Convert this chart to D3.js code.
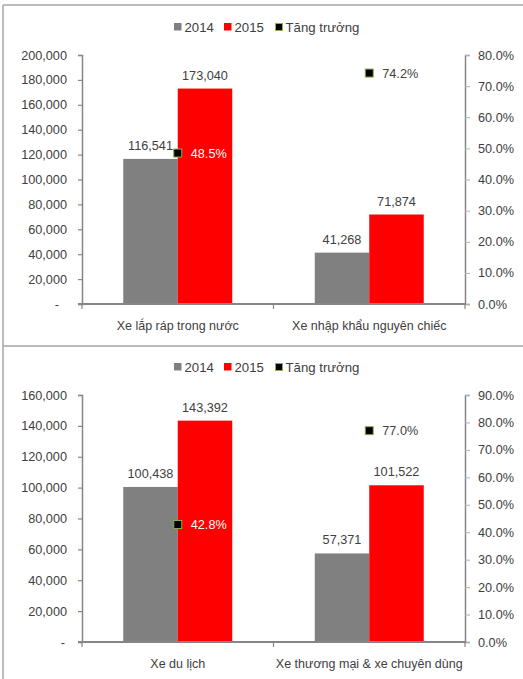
<!DOCTYPE html>
<html>
<head>
<meta charset="utf-8">
<script src="https://cdn.jsdelivr.net/npm/d3@7"></script>
<style>
  html, body { margin: 0; padding: 0; background: #fff; }
  svg { display: block; font-family: "Liberation Sans", Arial, sans-serif; }
</style>
</head>
<body>
<svg id="chart" width="523" height="679"></svg>
<script>
// Sales volumes (units) and year-on-year growth
const seriesKeys = ["2014", "2015"];
const legendLabels = ["2014", "2015", "Tăng trưởng"];

const categoriesTop = ["Xe lắp ráp trong nước", "Xe nhập khẩu nguyên chiếc"];
const values2014Top = [116541, 41268];
const values2015Top = [173040, 71874];
const growthTop = [0.485, 0.742];
const leftTicksTop = [0, 20000, 40000, 60000, 80000, 100000, 120000, 140000, 160000, 180000, 200000];
const rightTicksTop = [0, 0.1, 0.2, 0.3, 0.4, 0.5, 0.6, 0.7, 0.8];

const categoriesBottom = ["Xe du lịch", "Xe thương mại & xe chuyên dùng"];
const values2014Bottom = [100438, 57371];
const values2015Bottom = [143392, 101522];
const growthBottom = [0.428, 0.770];
const leftTicksBottom = [0, 20000, 40000, 60000, 80000, 100000, 120000, 140000, 160000];
const rightTicksBottom = [0, 0.1, 0.2, 0.3, 0.4, 0.5, 0.6, 0.7, 0.8, 0.9];

const COLORS = { "2014": "#808080", "2015": "#ff0000" };
const AXIS = "#868686";
const TEXT = "#404040";
const MARKER_FILL = "#000000";
const MARKER_STROKE = "#8db04a";

const svg = d3.select("#chart");

// Frame lines
const frame = svg.append("g").attr("stroke", "#a6a6a6").attr("stroke-width", 1.5).attr("fill", "none");
frame.append("line").attr("x1", 3).attr("x2", 523).attr("y1", 5).attr("y2", 5);
frame.append("line").attr("x1", 3).attr("x2", 3).attr("y1", 5).attr("y2", 679);
frame.append("line").attr("x1", 3).attr("x2", 523).attr("y1", 346).attr("y2", 346);

const fmtNum = d3.format(",");
const fmtPct = d3.format(".1%");

function drawPanel(cfg) {
  const g = svg.append("g");
  const x0 = 82, x1 = 465;
  const { top, bottom } = cfg;

  const rows = cfg.categories.map((c, i) => ({
    cat: c, "2014": cfg.v2014[i], "2015": cfg.v2015[i], growth: cfg.growth[i]
  }));

  const x = d3.scaleBand().domain(cfg.categories).range([x0, x1]).paddingInner(0).paddingOuter(0);
  const xs = d3.scaleBand().domain(seriesKeys).range([0, x.bandwidth()]).paddingInner(0).paddingOuter(0.757);
  const yL = d3.scaleLinear().domain([0, d3.max(cfg.leftTicks)]).range([bottom, top]);
  const yR = d3.scaleLinear().domain([0, d3.max(cfg.rightTicks)]).range([bottom, top]);

  // Legend
  const lg = g.append("g").attr("font-size", 13.2).attr("fill", TEXT);
  const legX = [174, 224, 275];
  const ly = cfg.legendY;
  legendLabels.forEach((lab, i) => {
    if (i < 2) {
      lg.append("rect").attr("x", legX[i]).attr("y", ly - 4).attr("width", 7.5).attr("height", 7.5)
        .attr("fill", COLORS[seriesKeys[i]]);
    } else {
      lg.append("rect").attr("x", legX[i] + 0.5).attr("y", ly - 3.5).attr("width", 7).attr("height", 7)
        .attr("fill", MARKER_FILL).attr("stroke", MARKER_STROKE).attr("stroke-width", 1);
    }
    lg.append("text").attr("x", legX[i] + 10.5).attr("y", ly + 4.5).text(lab);
  });

  // Bars
  const bars = g.append("g");
  rows.forEach(r => {
    seriesKeys.forEach(k => {
      bars.append("rect")
        .attr("x", x(r.cat) + xs(k))
        .attr("y", yL(r[k]))
        .attr("width", xs.bandwidth())
        .attr("height", bottom - yL(r[k]))
        .attr("fill", COLORS[k]);
    });
  });

  // Left axis
  const axL = g.append("g").attr("transform", `translate(${x0},0)`)
    .call(d3.axisLeft(yL).tickValues(cfg.leftTicks).tickSize(4).tickPadding(11)
      .tickFormat(d => d === 0 ? "-" : fmtNum(d)));
  axL.select(".domain").attr("stroke", AXIS).attr("stroke-width", 1.5);
  axL.selectAll(".tick line").attr("stroke", AXIS).attr("stroke-width", 1.2);
  axL.selectAll(".tick text").attr("fill", TEXT).attr("font-size", 12.7)
    .attr("font-family", "Liberation Sans, Arial, sans-serif")
    .attr("dx", d => d === 0 ? cfg.zeroShift : 0);

  // Right axis
  const axR = g.append("g").attr("transform", `translate(${x1},0)`)
    .call(d3.axisRight(yR).tickValues(cfg.rightTicks).tickSize(5).tickPadding(8).tickFormat(fmtPct));
  axR.select(".domain").attr("stroke", AXIS).attr("stroke-width", 1.5);
  axR.selectAll(".tick line").attr("stroke", "#b0b0b0").attr("stroke-width", 1);
  axR.selectAll(".tick text").attr("fill", TEXT).attr("font-size", 12.7)
    .attr("font-family", "Liberation Sans, Arial, sans-serif");

  // Category axis
  const axB = g.append("g").attr("transform", `translate(0,${bottom})`)
    .call(d3.axisBottom(x).tickSize(0).tickPadding(17));
  axB.select(".domain").attr("stroke", AXIS).attr("stroke-width", 1.8)
    .attr("d", `M${x0 - 4},0H${x1 + 1}`);
  axB.selectAll(".tick text").attr("fill", TEXT).attr("font-size", 12.5)
    .attr("font-family", "Liberation Sans, Arial, sans-serif");
  // category boundary ticks
  const bounds = [x0, x0 + x.bandwidth(), x1];
  g.append("g").selectAll("line").data(bounds).join("line")
    .attr("x1", d => d).attr("x2", d => d)
    .attr("y1", bottom).attr("y2", bottom + 5)
    .attr("stroke", AXIS).attr("stroke-width", 1.2);

  // Value labels
  const vl = g.append("g").attr("font-size", 12.7).attr("fill", TEXT).attr("text-anchor", "middle");
  rows.forEach(r => {
    seriesKeys.forEach(k => {
      vl.append("text")
        .attr("x", x(r.cat) + xs(k) + xs.bandwidth() / 2)
        .attr("y", yL(r[k]) - 9)
        .text(fmtNum(r[k]));
    });
  });

  // Growth markers
  const mk = g.append("g");
  rows.forEach((r, i) => {
    const cx = x(r.cat) + x.bandwidth() / 2;
    const cy = yR(r.growth);
    mk.append("rect").attr("x", cx - 4).attr("y", cy - 4).attr("width", 8).attr("height", 8)
      .attr("fill", MARKER_FILL).attr("stroke", MARKER_STROKE).attr("stroke-width", 1);
    mk.append("text").attr("x", cx + 13).attr("y", cy + 4.5)
      .attr("font-size", 12.7)
      .attr("fill", cfg.growthLabelColors[i])
      .text(fmtPct(r.growth));
  });
}

drawPanel({
  categories: categoriesTop, v2014: values2014Top, v2015: values2015Top, growth: growthTop,
  leftTicks: leftTicksTop, rightTicks: rightTicksTop,
  top: 55, bottom: 304, legendY: 27, zeroShift: -8,
  growthLabelColors: ["#ffffff", TEXT]
});

drawPanel({
  categories: categoriesBottom, v2014: values2014Bottom, v2015: values2015Bottom, growth: growthBottom,
  leftTicks: leftTicksBottom, rightTicks: rightTicksBottom,
  top: 395, bottom: 642, legendY: 367, zeroShift: -2,
  growthLabelColors: ["#ffffff", TEXT]
});
</script>
</body>
</html>
